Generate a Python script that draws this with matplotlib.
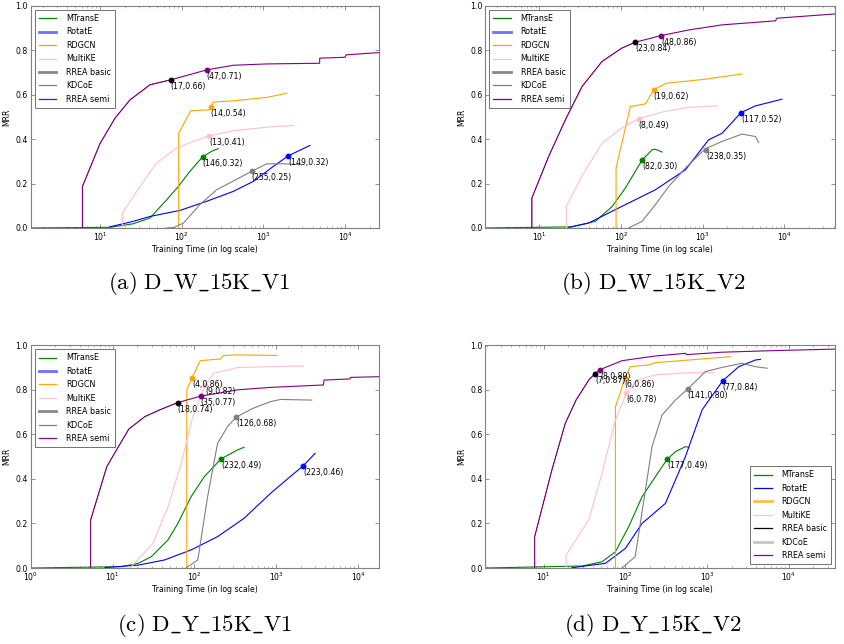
import matplotlib
matplotlib.use("Agg")
import matplotlib.pyplot as plt
from matplotlib.lines import Line2D
from matplotlib.ticker import LogLocator, NullFormatter

METHODS = ["MTransE", "RotatE", "RDGCN", "MultiKE", "RREA basic", "KDCoE", "RREA semi"]
COLORS = ["#008000", "#0000ff", "#ffa500", "#ffc0cb", "#000000", "#808080", "#800080"]

# ---- (a) D_W_15K_V1 ----
A_MTRANSE = ([1.42, 13.2, 25.6, 41, 65.5, 91, 126, 181, 240, 281],
             [0, 0.003, 0.019, 0.045, 0.127, 0.187, 0.255, 0.321, 0.348, 0.357])
A_ROTATE = ([13.2, 25.6, 41, 95, 202, 430, 755, 1320, 2020, 3720],
            [0.005, 0.03, 0.052, 0.079, 0.12, 0.165, 0.21, 0.277, 0.325, 0.372])
A_RDGCN = ([92, 92, 129, 215, 226, 244, 430, 1100, 1930],
           [0, 0.427, 0.528, 0.532, 0.544, 0.567, 0.573, 0.588, 0.607])
A_MULTIKE = ([18.8, 18.8, 31, 49, 87, 139, 216, 430, 1100, 2330],
             [0, 0.067, 0.187, 0.292, 0.36, 0.39, 0.415, 0.438, 0.454, 0.462])
A_KDCOE = ([65.5, 80, 105, 167, 268, 719, 1100, 1760, 2945],
           [0, 0.002, 0.022, 0.105, 0.172, 0.255, 0.289, 0.289, 0.285])
A_SEMI = ([6.1, 6.1, 10, 15.3, 23.3, 40.9, 73, 202, 430, 1100, 4880, 4900, 10000, 10300, 26000],
          [0, 0.187, 0.38, 0.495, 0.577, 0.645, 0.667, 0.712, 0.733, 0.739, 0.742, 0.765, 0.769, 0.78, 0.79])
A_MARK_T = [181, 2020, 226, 216, 73, 719, 202]
A_MARK_MRR = [0.321, 0.325, 0.544, 0.415, 0.667, 0.255, 0.712]
A_MARK_TXT = ["(146,0.32)", "(149,0.32)", "(14,0.54)", "(13,0.41)", "(17,0.66)", "(255,0.25)", "(47,0.71)"]

# ---- (b) D_W_15K_V2 ----
B_MTRANSE = ([2.18, 25, 48.5, 78, 113, 181, 240, 263, 318],
             [0, 0.005, 0.03, 0.097, 0.18, 0.306, 0.352, 0.355, 0.342])
B_ROTATE = ([22.9, 40, 102, 263, 614, 1180, 1730, 2950, 4415, 9350],
            [0.003, 0.022, 0.097, 0.172, 0.262, 0.397, 0.427, 0.52, 0.55, 0.58])
B_RDGCN = ([87, 87, 130, 199, 251, 275, 360, 1070, 3020],
           [0, 0.27, 0.547, 0.559, 0.622, 0.63, 0.652, 0.67, 0.694])
B_MULTIKE = ([21.4, 21.4, 33, 58.5, 102, 164, 340, 675, 1500],
             [0, 0.097, 0.232, 0.382, 0.45, 0.492, 0.525, 0.543, 0.55])
B_KDCOE = ([124, 181, 263, 384, 614, 1080, 1730, 3020, 4415, 4850],
           [0, 0.03, 0.105, 0.187, 0.27, 0.357, 0.39, 0.423, 0.412, 0.385])
B_SEMI = ([8.1, 8.1, 13, 20.8, 33.3, 58.5, 102, 150, 312, 675, 1730, 7770, 8100, 41300],
          [0, 0.135, 0.322, 0.487, 0.637, 0.75, 0.81, 0.837, 0.867, 0.892, 0.915, 0.933, 0.945, 0.964])
B_MARK_T = [181, 2950, 251, 164, 150, 1110, 312]
B_MARK_MRR = [0.306, 0.52, 0.622, 0.492, 0.837, 0.35, 0.867]
B_MARK_TXT = ["(82,0.30)", "(117,0.52)", "(19,0.62)", "(8,0.49)", "(23,0.84)", "(238,0.35)", "(48,0.86)"]

# ---- (c) D_Y_15K_V1 ----
C_MTRANSE = ([1, 12.9, 20.6, 29.8, 47.5, 62.8, 91, 132, 212, 335, 404],
             [0, 0.006, 0.021, 0.051, 0.126, 0.2, 0.32, 0.41, 0.49, 0.53, 0.542])
C_ROTATE = ([8.1, 20.6, 43, 91, 192, 404, 850, 1480, 2150, 2985],
            [0.002, 0.013, 0.036, 0.081, 0.141, 0.223, 0.335, 0.41, 0.46, 0.515])
C_RDGCN = ([80.7, 80.7, 93.7, 118, 210, 225, 335, 1020],
           [0, 0.8, 0.855, 0.931, 0.939, 0.954, 0.957, 0.954])
C_MULTIKE = ([16.3, 31.3, 47.5, 69, 95.5, 136, 170, 335, 850, 2150],
             [0, 0.111, 0.275, 0.47, 0.68, 0.822, 0.874, 0.9, 0.904, 0.907])
C_KDCOE = ([79, 110, 145, 192, 254, 326, 520, 850, 1130, 2720],
           [0, 0.036, 0.32, 0.56, 0.635, 0.678, 0.717, 0.747, 0.757, 0.754])
C_SEMI = ([5.4, 5.4, 8.5, 11.8, 15.8, 24.8, 39.4, 62.8, 120, 335, 850, 3770, 3850, 7940, 8100, 18000],
          [0, 0.216, 0.455, 0.545, 0.624, 0.68, 0.713, 0.743, 0.772, 0.8, 0.811, 0.822, 0.844, 0.849, 0.856, 0.859])
C_MARK_T = [212, 2150, 93.7, 136, 62.8, 326, 120]
C_MARK_MRR = [0.49, 0.46, 0.855, 0.822, 0.743, 0.678, 0.772]
C_MARK_TXT = ["(232,0.49)", "(223,0.46)", "(4,0.86)", "(9,0.82)", "(18,0.74)", "(126,0.68)", "(35,0.77)"]

# ---- (d) D_Y_15K_V2 ----
D_MTRANSE = ([1.93, 29.5, 51.8, 75.5, 110, 160, 233, 324, 409, 543, 597],
             [0, 0.009, 0.028, 0.073, 0.186, 0.32, 0.41, 0.488, 0.522, 0.545, 0.542])
D_ROTATE = ([22, 57, 100, 160, 309, 543, 869, 1556, 2440, 3910, 4500],
            [0.001, 0.021, 0.088, 0.2, 0.29, 0.5, 0.71, 0.841, 0.904, 0.934, 0.937])
D_RDGCN = ([75.5, 75.5, 89, 98, 115, 193, 233, 597, 1930],
           [0, 0.725, 0.8, 0.855, 0.904, 0.912, 0.922, 0.934, 0.949])
D_MULTIKE = ([18.8, 18.8, 35.6, 51.8, 75.5, 103, 140, 233, 597, 1210],
             [0, 0.058, 0.216, 0.425, 0.665, 0.784, 0.844, 0.867, 0.877, 0.877])
D_KDCOE = ([91, 132, 176, 212, 281, 409, 580, 955, 1530, 2690, 3910, 5430],
           [0, 0.051, 0.35, 0.545, 0.687, 0.754, 0.804, 0.882, 0.901, 0.919, 0.904, 0.897])
D_SEMI = ([7.76, 7.76, 12.6, 18.4, 24.9, 35.6, 43, 49, 91, 233, 543, 560, 1510, 6250, 36500],
          [0, 0.141, 0.44, 0.65, 0.754, 0.844, 0.874, 0.891, 0.931, 0.952, 0.964, 0.958, 0.969, 0.976, 0.983])
D_MARK_T = [324, 1556, 98, 103, 43, 580, 49]
D_MARK_MRR = [0.488, 0.841, 0.855, 0.784, 0.871, 0.804, 0.891]
D_MARK_TXT = ["(177,0.49)", "(77,0.84)", "(6,0.86)", "(6,0.78)", "(7,0.87)", "(141,0.80)", "(8,0.89)"]

PANELS = [
    dict(curves=[A_MTRANSE, A_ROTATE, A_RDGCN, A_MULTIKE, None, A_KDCOE, A_SEMI],
         mt=A_MARK_T, mm=A_MARK_MRR, txt=A_MARK_TXT, xlim=(1.42, 26000),
         caption=r"$\mathrm{(a)\ D\_W\_15K\_V1}$", rect=[0.0364, 0.646, 0.4126, 0.3447],
         cap_xy=(0.236, 0.560), legend="upper left"),
    dict(curves=[B_MTRANSE, B_ROTATE, B_RDGCN, B_MULTIKE, None, B_KDCOE, B_SEMI],
         mt=B_MARK_T, mm=B_MARK_MRR, txt=B_MARK_TXT, xlim=(2.18, 41300),
         caption=r"$\mathrm{(b)\ D\_W\_15K\_V2}$", rect=[0.575, 0.646, 0.414, 0.3447],
         cap_xy=(0.774, 0.560), legend="upper left"),
    dict(curves=[C_MTRANSE, C_ROTATE, C_RDGCN, C_MULTIKE, None, C_KDCOE, C_SEMI],
         mt=C_MARK_T, mm=C_MARK_MRR, txt=C_MARK_TXT, xlim=(1, 18000),
         caption=r"$\mathrm{(c)\ D\_Y\_15K\_V1}$", rect=[0.0364, 0.118, 0.4126, 0.3458],
         cap_xy=(0.242, 0.028), legend="upper left"),
    dict(curves=[D_MTRANSE, D_ROTATE, D_RDGCN, D_MULTIKE, None, D_KDCOE, D_SEMI],
         mt=D_MARK_T, mm=D_MARK_MRR, txt=D_MARK_TXT, xlim=(1.93, 36500),
         caption=r"$\mathrm{(d)\ D\_Y\_15K\_V2}$", rect=[0.575, 0.118, 0.414, 0.3458],
         cap_xy=(0.774, 0.028), legend="lower right"),
]

# legend handle looks differ a bit between the top/left panels and panel (d)
HANDLE_ABC = {"RotatE": ("#7070ff", 2.0), "RREA basic": ("#888888", 2.0)}
HANDLE_D = {"RDGCN": ("#ffc04d", 2.0), "KDCoE": ("#c4c4c4", 2.0)}

fig = plt.figure(figsize=(8.44, 6.44), dpi=100)

for i, p in enumerate(PANELS):
    ax = fig.add_axes(p["rect"])
    ax.set_xscale("log")
    semi = p["curves"][6]
    for k, name in enumerate(METHODS):
        c = p["curves"][k]
        lw = 0.8
        if c is None:
            # RREA basic runs underneath RREA semi up to its marker
            xs = [t for t in semi[0] if t <= p["mt"][k]] + [p["mt"][k]]
            ys = [semi[1][j] for j, t in enumerate(semi[0]) if t <= p["mt"][k]] + [p["mm"][k]]
            c = (xs, ys)
            lw = 0.4
        ax.plot(c[0], c[1], color=COLORS[k], lw=lw)
    for k, name in enumerate(METHODS):
        ax.plot(p["mt"][k], p["mm"][k], "o", color=COLORS[k], ms=3.2, mec=COLORS[k], zorder=5)
        ax.annotate(p["txt"][k], (p["mt"][k], p["mm"][k]), xytext=(0, -1.5),
                    textcoords="offset points", ha="left", va="top", fontsize=5.6, zorder=6)

    ax.set_xlim(*p["xlim"])
    ax.set_ylim(0, 1.0)
    ax.set_yticks([0, 0.2, 0.4, 0.6, 0.8, 1.0])
    ax.set_yticklabels(["0.0", "0.2", "0.4", "0.6", "0.8", "1.0"])
    ax.xaxis.set_minor_locator(LogLocator(base=10, subs=range(2, 10)))
    ax.xaxis.set_minor_formatter(NullFormatter())
    ax.tick_params(direction="in", top=True, right=True, labelsize=5.6, length=3, width=0.5,
                   color="0.4", pad=2)
    ax.tick_params(which="minor", direction="in", top=True, length=1.5, width=0.4, color="0.5")
    for s in ax.spines.values():
        s.set_color("0.5")
        s.set_linewidth(0.8)
    ax.set_ylabel("MRR", fontsize=5.6, labelpad=3)
    ax.set_xlabel("Training Time (in log scale)", fontsize=5.6, labelpad=1)

    overrides = HANDLE_D if i == 3 else HANDLE_ABC
    handles = []
    for k, name in enumerate(METHODS):
        col, lw = overrides.get(name, (COLORS[k], 0.9))
        handles.append(Line2D([], [], color=col, lw=lw))
    leg = ax.legend(handles, METHODS, loc=p["legend"], fontsize=5.8, frameon=True,
                    fancybox=False, handlelength=2.2, handletextpad=1.2,
                    labelspacing=0.55, borderpad=0.5, borderaxespad=0.5)
    leg.get_frame().set_edgecolor("0.3")
    leg.get_frame().set_linewidth(0.7)

    fig.text(p["cap_xy"][0], p["cap_xy"][1], p["caption"], ha="center", va="center",
             fontsize=16.5, math_fontfamily="cm")

fig.savefig("out.png", dpi=100)
